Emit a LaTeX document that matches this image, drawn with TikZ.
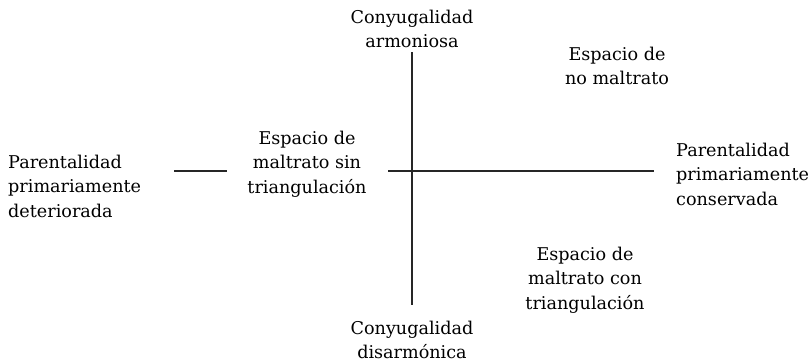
\documentclass[tikz,border=0pt]{standalone}
\usepackage{fontspec}
\setmainfont{DejaVu Serif}
\begin{document}
\begin{tikzpicture}[x=1pt,y=-1pt,
  lbl/.style={inner sep=0pt, align=center, font=\fontsize{17.6}{24.5}\selectfont},
  axis/.style={line width=1.1pt, black!85}]
\useasboundingbox (0,0) rectangle (812,364);
\node[lbl] (top) at (412,29) {Conyugalidad\\armoniosa};
\node[lbl] (bot) at (412,340) {Conyugalidad\\disarmónica};
\node[lbl] (nomal) at (617,66) {Espacio de\\no maltrato};
\node[lbl, align=left, anchor=west] (left) at (8,186) {Parentalidad\\primariamente\\deteriorada};
\node[lbl] (sin) at (307,164) {Espacio de\\maltrato sin\\triangulación};
\node[lbl, align=left, anchor=west] (right) at (676,174) {Parentalidad\\primariamente\\conservada};
\node[lbl] (con) at (585,280) {Espacio de\\maltrato con\\triangulación};
\coordinate (vt) at (412,52);
\coordinate (vb) at (412,305);
\coordinate (hl) at (388,171);
\coordinate (hr) at (654,171);
\coordinate (sl) at (174,171);
\coordinate (sr) at (227,171);
\draw[axis] (vt) -- (vb);
\draw[axis] (hl) -- (hr);
\draw[axis] (sl) -- (sr);
\end{tikzpicture}
\end{document}
